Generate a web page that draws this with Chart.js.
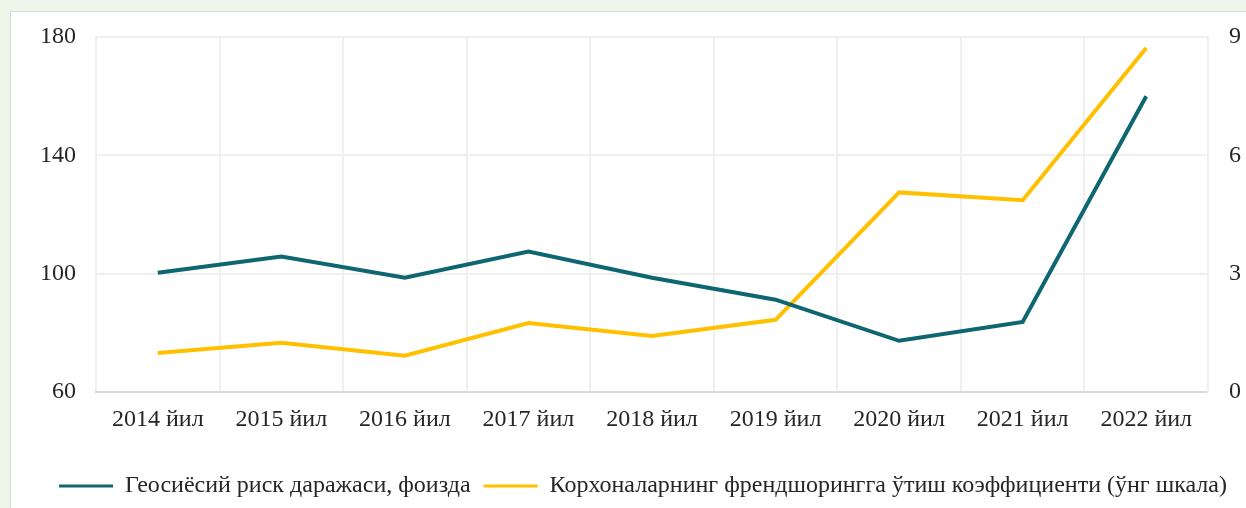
<!DOCTYPE html>
<html>
<head>
<meta charset="utf-8">
<script src="https://cdn.jsdelivr.net/npm/chart.js@4.4.0/dist/chart.umd.min.js"></script>
<style>
  html, body { margin: 0; padding: 0; background: #eef6ec; }
  #wrap { width: 1246px; height: 508px; position: relative; }
</style>
</head>
<body>
<div id="wrap"><canvas id="chart" width="1246" height="508"></canvas></div>
<script>
// data
const years = ['2014 йил', '2015 йил', '2016 йил', '2017 йил', '2018 йил', '2019 йил', '2020 йил', '2021 йил', '2022 йил'];
const geoRisk = [100.3, 105.8, 98.6, 107.5, 98.6, 91.2, 77.3, 83.7, 160];
const friendshoring = [0.99, 1.25, 0.92, 1.75, 1.42, 1.83, 5.06, 4.86, 8.72];
const leftTicks = [60, 100, 140, 180];
const rightTicks = [0, 3, 6, 9];

const teal = '#0e6670';
const yellow = '#ffc000';
const gridColor = '#efefef';

// white panel with thin border behind the chart
const panel = {
    id: 'panel',
    beforeDraw(chart) {
        let ctx = chart.ctx;
        ctx.save();
        ctx.fillStyle = '#ffffff';
        ctx.fillRect(10, 11, chart.width, chart.height);
        ctx.strokeStyle = '#d9d9d9';
        ctx.lineWidth = 1;
        ctx.strokeRect(10.5, 11.5, chart.width + 5, chart.height + 5);
        ctx.restore();
    }
};

Chart.defaults.font.family = '"Liberation Serif", "Times New Roman", serif';
Chart.defaults.font.size = 24;
Chart.defaults.color = '#262626';

let ctx = document.getElementById('chart').getContext('2d');
window.chart = new Chart(ctx, {
    type: 'line',
    data: {
        labels: years,
        datasets: [{
            label: 'Геосиёсий риск даражаси, фоизда',
            data: geoRisk,
            borderColor: teal,
            backgroundColor: teal,
            borderWidth: 4,
            pointRadius: 0,
            tension: 0,
            yAxisID: 'y'
        }, {
            label: 'Корхоналарнинг френдшорингга ўтиш коэффициенти (ўнг шкала)',
            data: friendshoring,
            borderColor: yellow,
            backgroundColor: yellow,
            borderWidth: 4,
            pointRadius: 0,
            tension: 0,
            yAxisID: 'y1'
        }]
    },
    options: {
        responsive: false,
        animation: false,
        layout: { padding: { top: 37, bottom: 0, left: 40 } },
        plugins: {
            legend: {
                position: 'bottom',
                labels: {
                    boxWidth: 54,
                    boxHeight: 3,
                    padding: 13,
                    color: '#262626',
                    font: { size: 24 },
                    generateLabels(chart) {
                        let items = Chart.defaults.plugins.legend.labels.generateLabels(chart);
                        items.forEach(it => { it.lineWidth = 0; });
                        return items;
                    }
                }
            },
            tooltip: { enabled: false }
        },
        scales: {
            x: {
                offset: true,
                grid: { offset: true, color: gridColor, lineWidth: 2, drawTicks: false },
                border: { color: '#d9d9d9', width: 2 },
                ticks: { padding: 13, maxRotation: 0 },
                afterFit(scale) { scale.height = 69; }
            },
            y: {
                position: 'left',
                min: 60,
                max: 180,
                afterBuildTicks(scale) { scale.ticks = leftTicks.map(v => ({ value: v })); },
                grid: { color: gridColor, lineWidth: 2, drawTicks: false },
                border: { display: false },
                ticks: { padding: 20 },
                afterFit(scale) { scale.width = 56; }
            },
            y1: {
                position: 'right',
                min: 0,
                max: 9,
                afterBuildTicks(scale) { scale.ticks = rightTicks.map(v => ({ value: v })); },
                grid: { display: false, drawTicks: false },
                border: { color: gridColor, width: 2 },
                ticks: { padding: 21 },
                afterFit(scale) { scale.width = 38; }
            }
        }
    },
    plugins: [panel]
});
</script>
</body>
</html>
